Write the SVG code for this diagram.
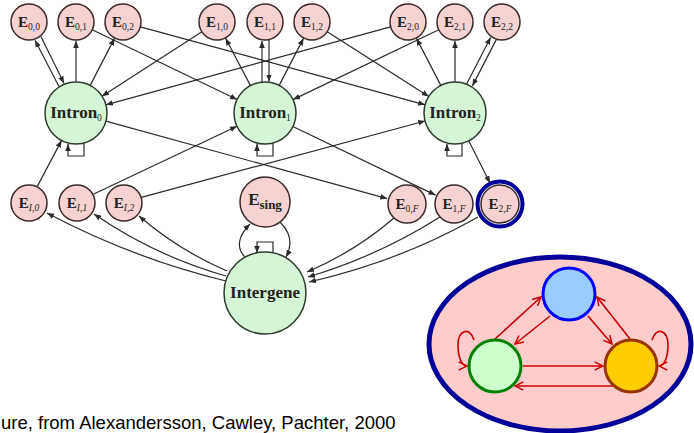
<svg xmlns="http://www.w3.org/2000/svg" width="694" height="433" viewBox="0 0 694 433">
<style>
.e{fill:#f6d2d2;stroke:#3a2828;stroke-width:1.5}
.i{fill:#d6f5d6;stroke:#2e3a2e;stroke-width:1.5}
.t{font-family:"Liberation Serif",serif;font-weight:bold;fill:#222}
.et{font-size:15px}
.sub{font-size:9.5px;font-weight:normal}
.it{font-size:17px}
.c path,.c line{stroke:#2a2a2a;stroke-width:1.2;fill:none;marker-end:url(#a)}
.r path,.r line{stroke:#cc0000;stroke-width:1.6;fill:none;marker-end:url(#ra)}
</style>
<defs>
<marker id="a" viewBox="0 0 10 10" refX="10" refY="5" markerWidth="7" markerHeight="7" orient="auto" markerUnits="userSpaceOnUse"><path d="M0,1 L10,5 L0,9 z" fill="#2a2a2a"/></marker>
<marker id="ra" viewBox="0 0 12 12" refX="11" refY="6" markerWidth="10" markerHeight="10" orient="auto" markerUnits="userSpaceOnUse"><path d="M1,1 L11,6 L1,11" fill="none" stroke="#cc0000" stroke-width="1.8"/></marker>
</defs>
<rect width="694" height="433" fill="#fff"/>

<g id="connectors" class="c">
<line x1="59.1" y1="86.8" x2="35" y2="40.3"/>
<line x1="40.9" y1="36.6" x2="64" y2="83.2"/>
<line x1="76" y1="82" x2="76" y2="41"/>
<line x1="92.2" y1="29.8" x2="237.1" y2="99.5"/>
<line x1="90.2" y1="85.4" x2="114.5" y2="38.4"/>
<line x1="140.4" y1="26.8" x2="425.1" y2="104.8"/>
<line x1="250.5" y1="85.6" x2="225.6" y2="38.3"/>
<line x1="201.9" y1="31.8" x2="102" y2="96.2"/>
<line x1="262" y1="82.3" x2="262" y2="41"/>
<line x1="269" y1="39.5" x2="269" y2="81.5"/>
<line x1="279.2" y1="85.4" x2="303.5" y2="38.4"/>
<line x1="327.2" y1="31.7" x2="428.8" y2="96.4"/>
<line x1="440.8" y1="85.4" x2="416.5" y2="38.4"/>
<line x1="390.6" y1="26.8" x2="105.9" y2="104.8"/>
<line x1="455" y1="82" x2="455" y2="41"/>
<line x1="438.8" y1="29.8" x2="293" y2="99.6"/>
<line x1="466.6" y1="84.1" x2="490.6" y2="37.5"/>
<line x1="496.4" y1="39.4" x2="472.4" y2="85.9"/>
<path d="M84,143 L84,156 L68,156 L68,144"/>
<path d="M273,143 L273,156 L257,156 L257,144"/>
<path d="M462,143 L462,156 L447,156 L447,144"/>
<line x1="37.4" y1="186.1" x2="61.5" y2="140.6"/>
<line x1="93.3" y1="194.3" x2="237" y2="126.3"/>
<line x1="141.4" y1="197.3" x2="425.1" y2="121"/>
<line x1="105.9" y1="121.2" x2="387.2" y2="198.6"/>
<line x1="292.9" y1="126.5" x2="435.5" y2="195.1"/>
<line x1="468.7" y1="140.8" x2="490" y2="183"/>
<path d="M226,281 Q132.2,258.2 47,213"/>
<path d="M226,276 Q154.9,255.9 94,214"/>
<path d="M227,271 Q178.8,250.3 139,216"/>
<path d="M394,218 Q354.7,251.8 307,272"/>
<path d="M440,217 Q378.1,256.1 308,277"/>
<path d="M478,217 Q400.1,261.3 309,282"/>
<path d="M245,257 C236,248 238,236 250,224"/>
<path d="M280,222 C292,234 292,246 286,257"/>
<path d="M273,253 L273,242 L257,242 L257,253"/>
</g>

<g id="E00"><circle class="e" cx="29" cy="22" r="18"/><text class="t et" x="29" y="27" text-anchor="middle">E<tspan class="sub" dy="3">0,0</tspan></text></g>
<g id="E01"><circle class="e" cx="76" cy="22" r="18"/><text class="t et" x="76" y="27" text-anchor="middle">E<tspan class="sub" dy="3">0,1</tspan></text></g>
<g id="E02"><circle class="e" cx="123" cy="22" r="18"/><text class="t et" x="123" y="27" text-anchor="middle">E<tspan class="sub" dy="3">0,2</tspan></text></g>
<g id="E10"><circle class="e" cx="217" cy="22" r="18"/><text class="t et" x="217" y="27" text-anchor="middle">E<tspan class="sub" dy="3">1,0</tspan></text></g>
<g id="E11"><circle class="e" cx="265" cy="22" r="18"/><text class="t et" x="265" y="27" text-anchor="middle">E<tspan class="sub" dy="3">1,1</tspan></text></g>
<g id="E12"><circle class="e" cx="312" cy="22" r="18"/><text class="t et" x="312" y="27" text-anchor="middle">E<tspan class="sub" dy="3">1,2</tspan></text></g>
<g id="E20"><circle class="e" cx="408" cy="22" r="18"/><text class="t et" x="408" y="27" text-anchor="middle">E<tspan class="sub" dy="3">2,0</tspan></text></g>
<g id="E21"><circle class="e" cx="455" cy="22" r="18"/><text class="t et" x="455" y="27" text-anchor="middle">E<tspan class="sub" dy="3">2,1</tspan></text></g>
<g id="E22"><circle class="e" cx="502" cy="22" r="18"/><text class="t et" x="502" y="27" text-anchor="middle">E<tspan class="sub" dy="3">2,2</tspan></text></g>

<g id="Intron0"><circle class="i" cx="76" cy="113" r="31"/><text class="t it" x="76" y="118" text-anchor="middle">Intron<tspan class="sub" font-size="10" dy="3">0</tspan></text></g>
<g id="Intron1"><circle class="i" cx="265" cy="113" r="31"/><text class="t it" x="265" y="118" text-anchor="middle">Intron<tspan class="sub" font-size="10" dy="3">1</tspan></text></g>
<g id="Intron2"><circle class="i" cx="455" cy="113" r="31"/><text class="t it" x="455" y="118" text-anchor="middle">Intron<tspan class="sub" font-size="10" dy="3">2</tspan></text></g>

<g id="EI0"><circle class="e" cx="29" cy="203" r="18"/><text class="t et" x="29" y="208" text-anchor="middle">E<tspan class="sub" dy="3" font-style="italic">I,0</tspan></text></g>
<g id="EI1"><circle class="e" cx="77" cy="203" r="18"/><text class="t et" x="77" y="208" text-anchor="middle">E<tspan class="sub" dy="3" font-style="italic">I,1</tspan></text></g>
<g id="EI2"><circle class="e" cx="124" cy="203" r="18"/><text class="t et" x="124" y="208" text-anchor="middle">E<tspan class="sub" dy="3" font-style="italic">I,2</tspan></text></g>

<g id="Esing"><circle class="e" cx="265" cy="202" r="25"/><text class="t" font-size="17" x="265" y="205" text-anchor="middle">E<tspan font-size="13" dy="4">sing</tspan></text></g>

<g id="E0F"><circle class="e" cx="407" cy="204" r="19"/><text class="t et" x="407" y="209" text-anchor="middle">E<tspan class="sub" dy="3">0,<tspan font-style="italic">F</tspan></tspan></text></g>
<g id="E1F"><circle class="e" cx="454" cy="204" r="19"/><text class="t et" x="454" y="209" text-anchor="middle">E<tspan class="sub" dy="3">1,<tspan font-style="italic">F</tspan></tspan></text></g>
<g id="E2F"><circle class="e" cx="500" cy="204" r="19"/><circle cx="500" cy="204" r="22.5" fill="none" stroke="#000099" stroke-width="4"/><text class="t et" x="500" y="209" text-anchor="middle">E<tspan class="sub" dy="3">2,<tspan font-style="italic">F</tspan></tspan></text></g>

<g id="Intergene"><circle class="i" cx="265" cy="293" r="41"/><text class="t it" x="265" y="298" text-anchor="middle">Intergene</text></g>

<g id="inset">
<ellipse cx="560" cy="344" rx="131" ry="87" fill="#ffcccc" stroke="#000099" stroke-width="5"/>
<g class="r">
<line x1="495" y1="339" x2="541" y2="297"/>
<line x1="550" y1="316" x2="515" y2="344"/>
<line x1="588" y1="316" x2="612" y2="344"/>
<line x1="630" y1="339" x2="597" y2="297"/>
<line x1="523" y1="366" x2="603" y2="366"/>
<line x1="613" y1="386" x2="515" y2="386"/>
<path d="M474,340 C470,326 458,330 458,345 C458,358 462,366 467,366"/>
<path d="M652,340 C656,326 668,330 668,345 C668,358 664,366 659,366"/>
</g>
<g id="blue"><circle cx="569" cy="294" r="26" fill="#99ccff" stroke="#0000ff" stroke-width="3"/></g>
<g id="green"><circle cx="495" cy="366" r="26" fill="#ccffcc" stroke="#008000" stroke-width="3"/></g>
<g id="orange"><circle cx="631" cy="366" r="26" fill="#ffcc00" stroke="#993300" stroke-width="3"/></g>
</g>

<text x="1" y="428.5" font-family="Liberation Sans, Arial, sans-serif" font-size="18.5" fill="#000">ure, from Alexandersson, Cawley, Pachter, 2000</text>
</svg>
